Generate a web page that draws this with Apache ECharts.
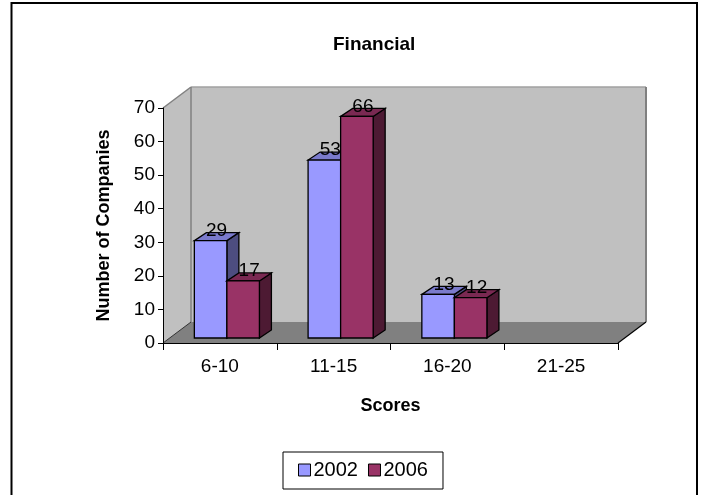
<!DOCTYPE html>
<html>
<head>
<meta charset="utf-8">
<script src="https://cdn.jsdelivr.net/npm/echarts@6/dist/echarts.min.js"></script>
<style>
  html, body { margin: 0; padding: 0; background: #fff; }
  #chart { width: 703px; height: 495px; }
</style>
</head>
<body>
<div id="chart"></div>
<script>
// Score bands and number of companies per band
const categories = ['6-10', '11-15', '16-20', '21-25'];
const years = ['2002', '2006'];
const values2002 = [29, 53, 13, null];
const values2006 = [17, 66, 12, null];
const yMin = 0, yMax = 70, yStep = 10;

const FONT = '"Liberation Sans", Arial, Helvetica, sans-serif';

// Oblique projection of the depth direction (pixels)
const FLOOR_DEPTH = [28, -21];   // full depth of walls and floor
const BAR_SHIFT = [7, -5];       // columns stand slightly behind the front edge
const BAR_DEPTH = [12, -8];      // thickness of one column
const BAR_FRACTION = 0.286;      // column width relative to category band

const palette = [
  { front: '#9999FF', top: '#7A7ACC', side: '#4D4D80' },
  { front: '#993366', top: '#7A2952', side: '#4D1A33' }
];

function polygon(points, fill, stroke, lineWidth) {
  return {
    type: 'polygon',
    shape: { points: points },
    style: { fill: fill, stroke: stroke || 'none', lineWidth: lineWidth || 0 }
  };
}
function line(p1, p2, stroke, lineWidth) {
  return {
    type: 'line',
    shape: { x1: p1[0], y1: p1[1], x2: p2[0], y2: p2[1] },
    style: { stroke: stroke, lineWidth: lineWidth }
  };
}

// Back wall, side wall and floor of the 3-D plot box
function renderWalls(params, api) {
  const cs = params.coordSys;
  const L = cs.x, R = cs.x + cs.width, T = cs.y, B = cs.y + cs.height;
  const dx = FLOOR_DEPTH[0], dy = FLOOR_DEPTH[1];
  return {
    type: 'group',
    children: [
      polygon([[L + dx, T + dy], [R + dx, T + dy], [R + dx, B + dy], [L + dx, B + dy]], '#C0C0C0'),
      polygon([[L, T], [L + dx, T + dy], [L + dx, B + dy], [L, B]], '#C0C0C0'),
      polygon([[L, B], [R, B], [R + dx, B + dy], [L + dx, B + dy]], '#808080'),
      line([L + dx, T + dy], [R + dx, T + dy], '#A0A0A0', 1.5),
      line([R + dx, T + dy], [R + dx, B + dy], '#808080', 2),
      line([L, T], [L + dx, T + dy], '#808080', 1.5),
      line([L + dx, T + dy], [L + dx, B + dy], '#808080', 1.5),
      line([L, B], [L + dx, B + dy], '#303030', 1),
      line([R, B], [R + dx, B + dy], '#000', 1.2)
    ]
  };
}

function makeBarRenderer(seriesIdx) {
  const col = palette[seriesIdx];
  return function (params, api) {
    const cat = api.value(0);
    const val = api.value(1);
    if (val == null || isNaN(val)) return null;
    const base = api.coord([cat, yMin]);
    const topPt = api.coord([cat, val]);
    const band = api.size([1, 0])[0];
    const w = band * BAR_FRACTION;
    const x0 = base[0] - w + seriesIdx * w + BAR_SHIFT[0];
    const x1 = x0 + w;
    const yb = base[1] + BAR_SHIFT[1];
    const yt = topPt[1] + BAR_SHIFT[1];
    const bx = BAR_DEPTH[0], by = BAR_DEPTH[1];
    return {
      type: 'group',
      children: [
        polygon([[x1, yt], [x1 + bx, yt + by], [x1 + bx, yb + by], [x1, yb]], col.side, '#000', 1.3),
        polygon([[x0, yt], [x1, yt], [x1 + bx, yt + by], [x0 + bx, yt + by]], col.top, '#000', 1.3),
        polygon([[x0, yt], [x1, yt], [x1, yb], [x0, yb]], col.front, '#000', 1.3),
        {
          type: 'text',
          style: {
            x: (x0 + x1) / 2 + bx / 2,
            y: yt + by / 2 - 6,
            text: String(val),
            align: 'center',
            verticalAlign: 'middle',
            font: '19px ' + FONT,
            fill: '#000'
          },
          z2: 10
        }
      ]
    };
  };
}

const seriesValues = [values2002, values2006];

const chart = echarts.init(document.getElementById('chart'), null, { renderer: 'canvas' });
chart.setOption({
  backgroundColor: '#fff',
  animation: false,
  title: {
    text: 'Financial',
    left: 328,
    top: 30,
    textStyle: { fontFamily: FONT, fontSize: 19, fontWeight: 'bold', color: '#000' }
  },
  legend: {
    data: years,
    left: 283,
    top: 452,
    icon: 'rect',
    itemWidth: 12,
    itemHeight: 12,
    itemGap: 10,
    padding: [8, 15, 9, 15],
    borderColor: '#000',
    borderWidth: 1,
    itemStyle: { borderColor: '#000', borderWidth: 1 },
    textStyle: { fontFamily: FONT, fontSize: 20, color: '#000', padding: [0, 0, 0, -2] }
  },
  graphic: [{
    type: 'rect',
    shape: { x: 11.5, y: 3, width: 685.5, height: 510 },
    style: { fill: 'none', stroke: '#000', lineWidth: 2 },
    z: 100
  }],
  grid: { left: 163, right: 85, top: 108, bottom: 152, containLabel: false },
  xAxis: {
    type: 'category',
    data: categories,
    boundaryGap: true,
    z: 10,
    axisLine: { show: true, lineStyle: { color: '#000', width: 1 } },
    axisTick: { show: true, length: 7, lineStyle: { color: '#000' } },
    axisLabel: { margin: 14, fontFamily: FONT, fontSize: 19, color: '#000' },
    splitLine: { show: false },
    name: 'Scores',
    nameLocation: 'middle',
    nameGap: 54,
    nameTextStyle: { fontFamily: FONT, fontSize: 18, fontWeight: 'bold', color: '#000' }
  },
  yAxis: {
    type: 'value',
    min: yMin,
    max: yMax,
    interval: yStep,
    z: 10,
    axisLine: { show: true, lineStyle: { color: '#000', width: 1 } },
    axisTick: { show: true, length: 5, lineStyle: { color: '#000' } },
    axisLabel: { margin: 8, fontFamily: FONT, fontSize: 19, color: '#000' },
    splitLine: { show: false },
    name: 'Number of Companies',
    nameLocation: 'middle',
    nameGap: 50,
    nameRotate: 90,
    nameTextStyle: { fontFamily: FONT, fontSize: 18, fontWeight: 'bold', color: '#000' }
  },
  series: [
    {
      type: 'custom',
      name: 'walls',
      silent: true,
      z: 1,
      renderItem: renderWalls,
      data: [[0, 0]],
      legendHoverLink: false
    }
  ].concat(years.map(function (yr, i) {
    return {
      type: 'custom',
      name: yr,
      z: 3 + i,
      itemStyle: { color: palette[i].front, borderColor: '#000', borderWidth: 1 },
      renderItem: makeBarRenderer(i),
      data: seriesValues[i].map(function (v, c) { return [c, v]; })
    };
  }))
});
</script>
</body>
</html>
